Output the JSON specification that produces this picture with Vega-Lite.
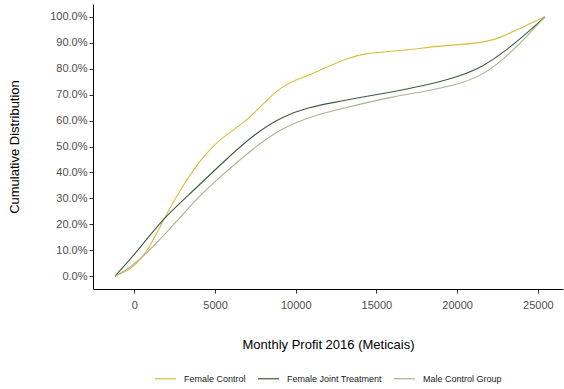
{
  "$schema": "https://vega.github.io/schema/vega-lite/v6.json",
  "width": 470,
  "height": 285,
  "autosize": {"type": "none"},
  "padding": {"left": 93, "top": 4, "right": 1, "bottom": 100},
  "background": "white",
  "data": {
    "values": [
      {"group": "Female Control", "profit": -1196, "cdf": 0.0},
      {"group": "Female Control", "profit": -260, "cdf": 0.023},
      {"group": "Female Control", "profit": 564, "cdf": 0.075},
      {"group": "Female Control", "profit": 1177, "cdf": 0.139},
      {"group": "Female Control", "profit": 1902, "cdf": 0.229},
      {"group": "Female Control", "profit": 2831, "cdf": 0.332},
      {"group": "Female Control", "profit": 4070, "cdf": 0.448},
      {"group": "Female Control", "profit": 5310, "cdf": 0.530},
      {"group": "Female Control", "profit": 6549, "cdf": 0.580},
      {"group": "Female Control", "profit": 7478, "cdf": 0.632},
      {"group": "Female Control", "profit": 8400, "cdf": 0.690},
      {"group": "Female Control", "profit": 9027, "cdf": 0.725},
      {"group": "Female Control", "profit": 9957, "cdf": 0.757},
      {"group": "Female Control", "profit": 10800, "cdf": 0.775},
      {"group": "Female Control", "profit": 11505, "cdf": 0.795},
      {"group": "Female Control", "profit": 13160, "cdf": 0.840},
      {"group": "Female Control", "profit": 14188, "cdf": 0.860},
      {"group": "Female Control", "profit": 16667, "cdf": 0.870},
      {"group": "Female Control", "profit": 18941, "cdf": 0.889},
      {"group": "Female Control", "profit": 21419, "cdf": 0.898},
      {"group": "Female Control", "profit": 22658, "cdf": 0.918},
      {"group": "Female Control", "profit": 24104, "cdf": 0.963},
      {"group": "Female Control", "profit": 25446, "cdf": 1.0},
      {"group": "Female Joint Treatment", "profit": -1196, "cdf": 0.0},
      {"group": "Female Joint Treatment", "profit": -471, "cdf": 0.049},
      {"group": "Female Joint Treatment", "profit": 564, "cdf": 0.126},
      {"group": "Female Joint Treatment", "profit": 1902, "cdf": 0.229},
      {"group": "Female Joint Treatment", "profit": 3245, "cdf": 0.305},
      {"group": "Female Joint Treatment", "profit": 5310, "cdf": 0.429},
      {"group": "Female Joint Treatment", "profit": 7478, "cdf": 0.551},
      {"group": "Female Joint Treatment", "profit": 9132, "cdf": 0.615},
      {"group": "Female Joint Treatment", "profit": 10780, "cdf": 0.651},
      {"group": "Female Joint Treatment", "profit": 12435, "cdf": 0.671},
      {"group": "Female Joint Treatment", "profit": 13780, "cdf": 0.687},
      {"group": "Female Joint Treatment", "profit": 15843, "cdf": 0.709},
      {"group": "Female Joint Treatment", "profit": 17906, "cdf": 0.734},
      {"group": "Female Joint Treatment", "profit": 19975, "cdf": 0.767},
      {"group": "Female Joint Treatment", "profit": 21624, "cdf": 0.808},
      {"group": "Female Joint Treatment", "profit": 23073, "cdf": 0.873},
      {"group": "Female Joint Treatment", "profit": 24312, "cdf": 0.937},
      {"group": "Female Joint Treatment", "profit": 25446, "cdf": 1.0},
      {"group": "Male Control Group", "profit": -1196, "cdf": 0.0},
      {"group": "Male Control Group", "profit": -260, "cdf": 0.030},
      {"group": "Male Control Group", "profit": 1177, "cdf": 0.113},
      {"group": "Male Control Group", "profit": 2627, "cdf": 0.210},
      {"group": "Male Control Group", "profit": 3761, "cdf": 0.293},
      {"group": "Male Control Group", "profit": 5310, "cdf": 0.383},
      {"group": "Male Control Group", "profit": 7478, "cdf": 0.499},
      {"group": "Male Control Group", "profit": 9132, "cdf": 0.570},
      {"group": "Male Control Group", "profit": 10780, "cdf": 0.613},
      {"group": "Male Control Group", "profit": 12435, "cdf": 0.640},
      {"group": "Male Control Group", "profit": 13780, "cdf": 0.660},
      {"group": "Male Control Group", "profit": 15843, "cdf": 0.690},
      {"group": "Male Control Group", "profit": 17906, "cdf": 0.712},
      {"group": "Male Control Group", "profit": 19975, "cdf": 0.737},
      {"group": "Male Control Group", "profit": 21624, "cdf": 0.776},
      {"group": "Male Control Group", "profit": 23073, "cdf": 0.847},
      {"group": "Male Control Group", "profit": 24312, "cdf": 0.924},
      {"group": "Male Control Group", "profit": 25446, "cdf": 1.0}
    ]
  },
  "mark": {"type": "line", "interpolate": "basis", "strokeWidth": 1.1},
  "encoding": {
    "x": {
      "field": "profit",
      "type": "quantitative",
      "title": "Monthly Profit 2016 (Meticais)",
      "scale": {"domain": [-2560, 26560], "nice": false, "zero": false},
      "axis": {"values": [0, 5000, 10000, 15000, 20000, 25000], "format": "d", "titlePadding": 28}
    },
    "y": {
      "field": "cdf",
      "type": "quantitative",
      "title": "Cumulative Distribution",
      "scale": {"domain": [-0.05, 1.05], "nice": false},
      "axis": {"values": [0, 0.1, 0.2, 0.3, 0.4, 0.5, 0.6, 0.7, 0.8, 0.9, 1.0], "format": ".1%", "titlePadding": 28}
    },
    "color": {
      "field": "group",
      "type": "nominal",
      "title": null,
      "scale": {
        "domain": ["Female Control", "Female Joint Treatment", "Male Control Group"],
        "range": ["#D9BF3A", "#3D5B3D", "#AEB18C"]
      },
      "legend": {
        "orient": "bottom",
        "direction": "horizontal",
        "symbolType": "stroke",
        "symbolSize": 441,
        "symbolStrokeWidth": 1.2,
        "labelOffset": 7,
        "columnPadding": 9,
        "offset": 16
      }
    }
  },
  "config": {
    "font": "Liberation Sans",
    "view": {"stroke": null},
    "axis": {
      "grid": false,
      "domainColor": "#000000",
      "domainWidth": 1,
      "tickColor": "#333333",
      "tickSize": 4,
      "labelColor": "#4D4D4D",
      "labelFontSize": 11,
      "labelFont": "Liberation Sans",
      "titleFont": "Liberation Sans",
      "titleFontSize": 13,
      "titleFontWeight": "normal",
      "titleColor": "#000000"
    },
    "axisX": {"labelPadding": 6},
    "axisY": {"labelPadding": 2},
    "legend": {
      "labelFont": "Liberation Sans",
      "labelFontSize": 9,
      "labelColor": "#1a1a1a",
      "layout": {"bottom": {"anchor": "middle"}}
    }
  }
}
